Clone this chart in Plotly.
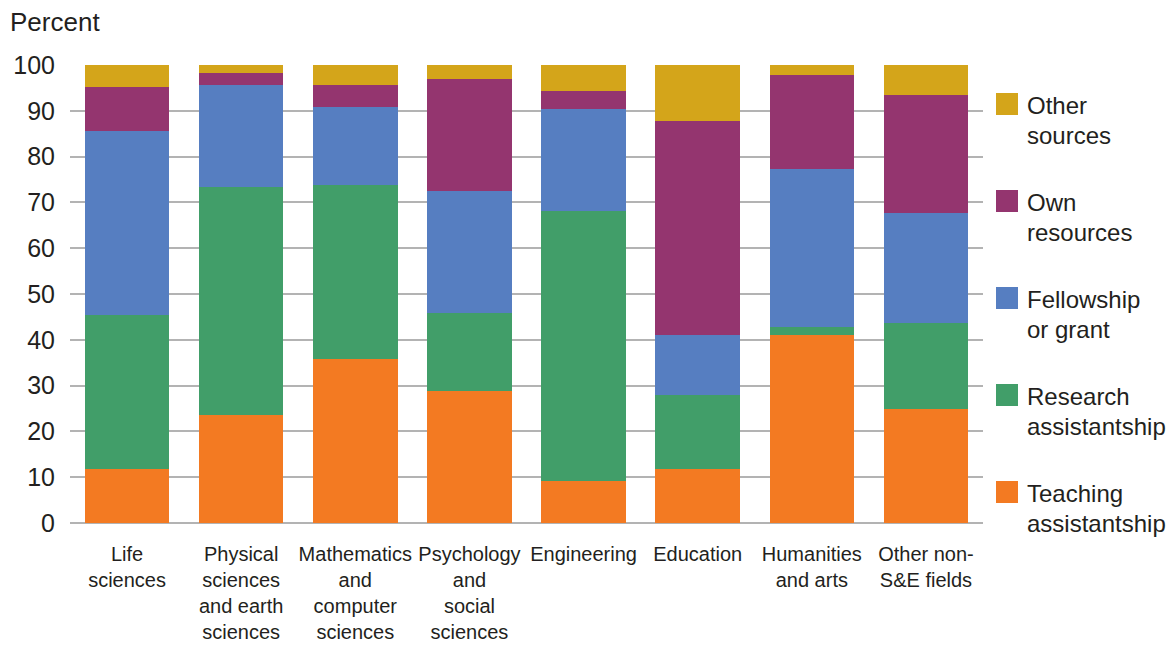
import plotly.graph_objects as go

# Field of study (x-axis categories, with manual line breaks)
fields = [
    "Life<br>sciences",
    "Physical<br>sciences<br>and earth<br>sciences",
    "Mathematics<br>and<br>computer<br>sciences",
    "Psychology<br>and<br>social<br>sciences",
    "Engineering",
    "Education",
    "Humanities<br>and arts",
    "Other non-<br>S&E fields",
]

# Primary source of support, percent of doctorate recipients
teaching = [11.7, 23.5, 35.8, 28.8, 9.1, 11.7, 41.0, 24.8]
research = [33.7, 49.9, 38.0, 17.0, 59.0, 16.2, 1.8, 18.8]
fellowship = [40.2, 22.2, 17.0, 26.7, 22.3, 13.1, 34.5, 24.1]
own = [9.7, 2.7, 4.9, 24.4, 4.0, 46.8, 20.5, 25.7]
other = [4.7, 1.7, 4.3, 3.1, 5.6, 12.2, 2.2, 6.6]

series_names = ["Teaching<br>assistantship", "Research<br>assistantship",
                "Fellowship<br>or grant", "Own<br>resources", "Other<br>sources"]
series_values = [teaching, research, fellowship, own, other]
series_colors = ["#F37A22", "#419E69", "#567EC1", "#94356F", "#D4A51A"]

y_ticks = [0, 10, 20, 30, 40, 50, 60, 70, 80, 90, 100]

W, H = 1175, 658
ML, MR, MT, MB = 70, 192, 65, 135
TEXT = "#231f20"
FONT = "Liberation Sans, Arial, sans-serif"

fig = go.Figure()
for name, vals, col in zip(series_names, series_values, series_colors):
    fig.add_trace(go.Bar(
        x=fields, y=vals, name=name.replace("<br>", " "),
        marker=dict(color=col, line=dict(width=0)),
        showlegend=False,
    ))

# pixel -> paper helpers for the side legend
pw = W - ML - MR
ph = H - MT - MB


def px_x(px):
    return (px - ML) / pw


def px_y(py):
    return (H - MB - py) / ph


shapes = []
annotations = []
legend_top = 93
step = 97
for i, (name, col) in enumerate(zip(reversed(series_names), reversed(series_colors))):
    top = legend_top + i * step
    shapes.append(dict(
        type="rect", xref="paper", yref="paper",
        x0=px_x(996), x1=px_x(1018), y0=px_y(top + 22), y1=px_y(top),
        fillcolor=col, line=dict(width=0),
    ))
    for j, line in enumerate(name.split("<br>")):
        annotations.append(dict(
            text=line, xref="paper", yref="paper",
            x=px_x(1025), y=px_y(top + 12 + j * 30),
            xanchor="left", yanchor="middle", showarrow=False,
            font=dict(family=FONT, size=24, color=TEXT),
        ))

annotations.append(dict(
    text="Percent", xref="paper", yref="paper",
    x=px_x(8), y=px_y(22), xanchor="left", yanchor="middle",
    showarrow=False, font=dict(family=FONT, size=26, color=TEXT),
))

fig.update_layout(
    width=W, height=H,
    margin=dict(l=ML, r=MR, t=MT, b=MB, autoexpand=False),
    barmode="stack", bargap=0.26,
    plot_bgcolor="white", paper_bgcolor="white",
    font=dict(family=FONT, color=TEXT),
    shapes=shapes, annotations=annotations,
    xaxis=dict(
        showgrid=False, zeroline=False, showline=False, ticks="",
        tickangle=0,
        tickfont=dict(family=FONT, size=20, color=TEXT),
        ticklabelstandoff=17,
    ),
    yaxis=dict(
        range=[0, 100], tickvals=y_ticks, ticks="",
        showgrid=True, gridcolor="#b3b3b3", gridwidth=1.5,
        zeroline=True, zerolinecolor="#b3b3b3", zerolinewidth=1.5,
        showline=False,
        tickfont=dict(family=FONT, size=25, color=TEXT),
        ticklabelstandoff=14,
    ),
)

fig.write_html("out.html")
